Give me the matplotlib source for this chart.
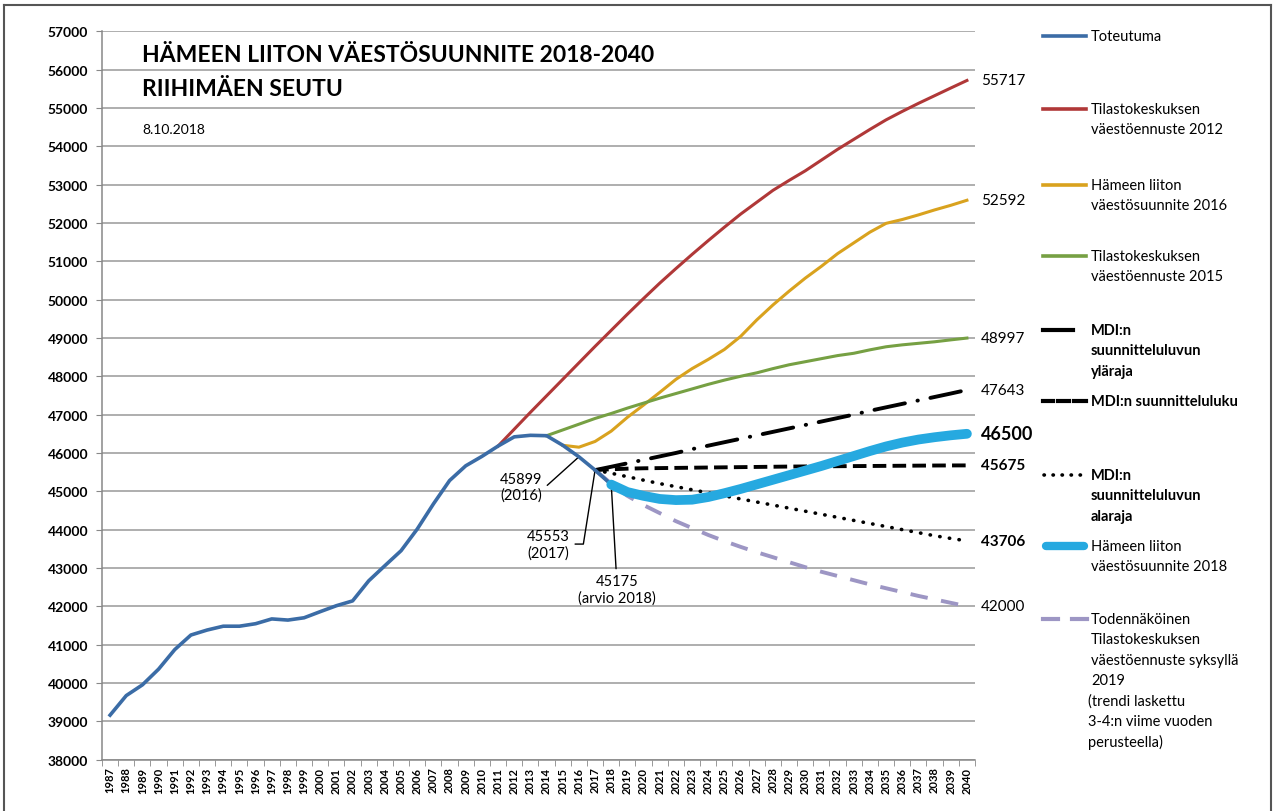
import matplotlib
matplotlib.use("Agg")
import matplotlib.pyplot as plt
from matplotlib.lines import Line2D
import numpy as np

plt.rcParams['font.family'] = ['Lato', 'DejaVu Sans']

# --- data -------------------------------------------------------------
years_hist = list(range(1987, 2019))
toteutuma = [39160, 39670, 39950, 40360, 40870, 41250, 41380, 41480, 41480, 41545,
             41670, 41640, 41700, 41860, 42015, 42140, 42665, 43060, 43450, 44015,
             44670, 45280, 45665, 45910, 46180, 46420, 46460, 46450, 46200, 45899,
             45553, 45175]

years_tk2012 = list(range(2011, 2041))
tk2012 = [46180, 46620, 47060, 47490, 47920, 48350, 48780, 49200, 49620, 50030,
          50430, 50810, 51180, 51540, 51890, 52230, 52540, 52850, 53110, 53360,
          53640, 53920, 54180, 54440, 54690, 54910, 55120, 55320, 55520, 55717]

years_hl2016 = list(range(2015, 2041))
hl2016 = [46200, 46150, 46300, 46570, 46930, 47250, 47580, 47920, 48200, 48440,
          48700, 49040, 49470, 49860, 50220, 50560, 50870, 51200, 51480, 51760,
          51990, 52090, 52210, 52340, 52460, 52592]

years_tk2015 = list(range(2014, 2041))
tk2015 = [46450, 46600, 46750, 46900, 47030, 47170, 47300, 47430, 47550, 47670,
          47790, 47900, 48000, 48090, 48200, 48300, 48380, 48460, 48540, 48600,
          48690, 48770, 48820, 48860, 48900, 48950, 48997]

years_mdi = list(range(2017, 2041))
mdi_ylaraja = [45553, 45640, 45730, 45820, 45910, 46000, 46100, 46190, 46280, 46370,
               46460, 46550, 46640, 46730, 46820, 46910, 47000, 47100, 47190, 47280,
               47370, 47460, 47550, 47643]
mdi_luku = [45553, 45575, 45590, 45600, 45605, 45610, 45615, 45620, 45625, 45630,
            45635, 45640, 45645, 45648, 45651, 45654, 45657, 45660, 45663, 45666,
            45669, 45672, 45674, 45675]
mdi_alaraja = [45553, 45470, 45380, 45290, 45200, 45120, 45040, 44960, 44880, 44800,
               44720, 44640, 44560, 44480, 44400, 44320, 44240, 44160, 44080, 44000,
               43920, 43840, 43770, 43706]

years_hl2018 = list(range(2018, 2041))
hl2018 = [45175, 44980, 44880, 44800, 44770, 44780, 44850, 44950, 45060, 45180,
          45300, 45420, 45540, 45660, 45790, 45920, 46050, 46170, 46270, 46350,
          46410, 46460, 46500]

years_trend = list(range(2017, 2041))
trendi = [45553, 45200, 44880, 44640, 44430, 44220, 44040, 43860, 43700, 43550,
          43410, 43280, 43150, 43020, 42900, 42790, 42680, 42570, 42470, 42370,
          42270, 42180, 42090, 42000]

end_labels = ["55717", "52592", "48997", "47643", "46500", "45675", "43706", "42000"]

# --- figure -----------------------------------------------------------
W, H = 1274, 812
fig = plt.figure(figsize=(W / 100, H / 100), dpi=100)


def fx(x):
    return x / W


def fy(y):
    return 1 - y / H


ax = fig.add_axes([fx(102), fy(760.6), fx(975) - fx(102), fy(32.3) - fy(760.6)])

c_blue = '#3B6CA6'
c_red = '#B03838'
c_yel = '#D9A21E'
c_grn = '#76A043'
c_lblue = '#26A9E0'
c_lilac = '#9D96C4'

ax.plot(years_hist, toteutuma, color=c_blue, lw=2.6, solid_joinstyle='round', zorder=5)
ax.plot(years_tk2012, tk2012, color=c_red, lw=2.2, zorder=4)
ax.plot(years_hl2016, hl2016, color=c_yel, lw=2.2, zorder=4)
ax.plot(years_tk2015, tk2015, color=c_grn, lw=2.2, zorder=4)
ax.plot(years_trend, trendi, color=c_lilac, lw=2.8, dashes=(4.5, 3.5), zorder=3)
ax.plot(years_mdi, mdi_ylaraja, color='black', lw=2.8, dashes=(8, 3.3, 0.1, 3.3),
        dash_capstyle='round', zorder=4)
ax.plot(years_mdi, mdi_luku, color='black', lw=2.8, dashes=(3.5, 1.6), zorder=4)
ax.plot(years_mdi, mdi_alaraja, color='black', lw=2.6, dashes=(0.1, 2.6),
        dash_capstyle='round', zorder=4)
ax.plot(years_hl2018, hl2018, color=c_lblue, lw=7, solid_capstyle='round', zorder=6)

ax.set_xlim(1986.5, 2040.5)
ax.set_ylim(38000, 57000)
ax.set_yticks(np.arange(38000, 57001, 1000))
ax.set_yticklabels([str(v) for v in range(38000, 57001, 1000)], fontweight='bold',
                   fontsize=10)
ax.set_xticks(range(1987, 2041))
ax.set_xticklabels([str(y) for y in range(1987, 2041)], rotation=90, fontsize=8,
                   fontweight='bold')
ax.set_xticks(np.arange(1986.5, 2041, 1), minor=True)
ax.tick_params(axis='x', which='major', length=0, pad=5)
ax.tick_params(axis='x', which='minor', length=4, color='#888888')
ax.tick_params(axis='y', length=4, color='#888888', pad=6)
ax.grid(axis='y', color='#999999', lw=1.1)
ax.set_axisbelow(True)
for s in ['top', 'right']:
    ax.spines[s].set_visible(False)
for s in ['left', 'bottom']:
    ax.spines[s].set_color('#888888')
    ax.spines[s].set_linewidth(1.1)

# title texts
fig.text(fx(142), fy(55), "HÄMEEN LIITON VÄESTÖSUUNNITE 2018-2040", fontsize=16.5,
         fontweight='bold', va='center', ha='left')
fig.text(fx(142), fy(90), "RIIHIMÄEN SEUTU", fontsize=16.5, fontweight='bold',
         va='center', ha='left')
fig.text(fx(142), fy(130), "8.10.2018", fontsize=10, va='center', ha='left')

# value labels at the right end
end_vals = [tk2012[-1], hl2016[-1], tk2015[-1], mdi_ylaraja[-1], hl2018[-1],
            mdi_luku[-1], mdi_alaraja[-1], trendi[-1]]
end_bold = [False, False, False, False, True, True, True, False]
end_size = [11, 11, 11, 11, 13, 11, 11, 11]
for lab, v, b, s in zip(end_labels, end_vals, end_bold, end_size):
    ax.annotate(lab, xy=(2040, v), xytext=(14, 0), textcoords='offset pixels',
                ha='left', va='center', fontsize=s,
                fontweight='bold' if b else 'normal', annotation_clip=False)

# annotations with leader lines
ax.annotate("45899\n(2016)", xy=(2016, toteutuma[29]), xytext=(-58, -30),
            textcoords='offset pixels', ha='center', va='center', fontsize=10.5,
            arrowprops=dict(arrowstyle='-', color='black', lw=1,
                            connectionstyle='angle,angleA=0,angleB=42,rad=0',
                            shrinkA=2, shrinkB=0))
ax.annotate("45553\n(2017)", xy=(2017, toteutuma[30]), xytext=(-47, -74),
            textcoords='offset pixels', ha='center', va='center', fontsize=10.5,
            arrowprops=dict(arrowstyle='-', color='black', lw=1,
                            connectionstyle='angle,angleA=0,angleB=81,rad=0',
                            shrinkA=2, shrinkB=0))
ax.annotate("45175\n(arvio 2018)", xy=(2018, toteutuma[31]), xytext=(6, -105),
            textcoords='offset pixels', ha='center', va='center', fontsize=10.5,
            arrowprops=dict(arrowstyle='-', color='black', lw=1, shrinkA=2, shrinkB=0))

# legend (drawn by hand to follow the original spacing)
legend_items = [
    (dict(color=c_blue, lw=2.6), [(1043, 1086)], ["Toteutuma"], False, 37),
    (dict(color=c_red, lw=2.6), [(1043, 1086)],
     ["Tilastokeskuksen", "väestöennuste 2012"], False, 110),
    (dict(color=c_yel, lw=2.6), [(1043, 1086)],
     ["Hämeen liiton", "väestösuunnite 2016"], False, 186),
    (dict(color=c_grn, lw=2.6), [(1043, 1086)],
     ["Tilastokeskuksen", "väestöennuste 2015"], False, 257),
    (dict(color='black', lw=3), [(1043, 1073)],
     ["MDI:n", "suunnitteluluvun", "yläraja"], True, 331),
    (dict(color='black', lw=3), [(1043, 1053), (1058, 1069), (1074, 1086)],
     ["MDI:n suunnitteluluku"], True, 402),
    (dict(color='black', lw=2.6, dashes=(0.1, 2.4), dash_capstyle='round'), [(1044, 1088)],
     ["MDI:n", "suunnitteluluvun", "alaraja"], True, 476),
    (dict(color=c_lblue, lw=6, solid_capstyle='round'), [(1046, 1084)],
     ["Hämeen liiton", "väestösuunnite 2018"], False, 547),
    (dict(color=c_lilac, lw=3), [(1043, 1058), (1072, 1087)],
     ["Todennäköinen", "Tilastokeskuksen", "väestöennuste syksyllä", "2019",
      "(trendi laskettu", "3-4:n viime vuoden", "perusteella)"], False, 620),
]
for style, segs, lines, bold, y0 in legend_items:
    for xa, xb in segs:
        fig.add_artist(Line2D([fx(xa), fx(xb)], [fy(y0), fy(y0)],
                              transform=fig.transFigure, **style))
    for i, t in enumerate(lines):
        xoff = 1088 if t.startswith('(') or t[:3] in ('3-4', 'per') else 1091
        fig.text(fx(xoff), fy(y0 + i * 20.4), t, fontsize=10.5,
                 fontweight='bold' if bold else 'normal', va='center', ha='left')

# outer frame
for xs, ys in [([4, 4], [6, 812]), ([4, 1271], [6, 6]), ([1271, 1271], [6, 812])]:
    fig.add_artist(Line2D([fx(x) for x in xs], [fy(y) for y in ys],
                          transform=fig.transFigure, color='#555555', lw=1.5))

fig.savefig("out.png", dpi=100)
